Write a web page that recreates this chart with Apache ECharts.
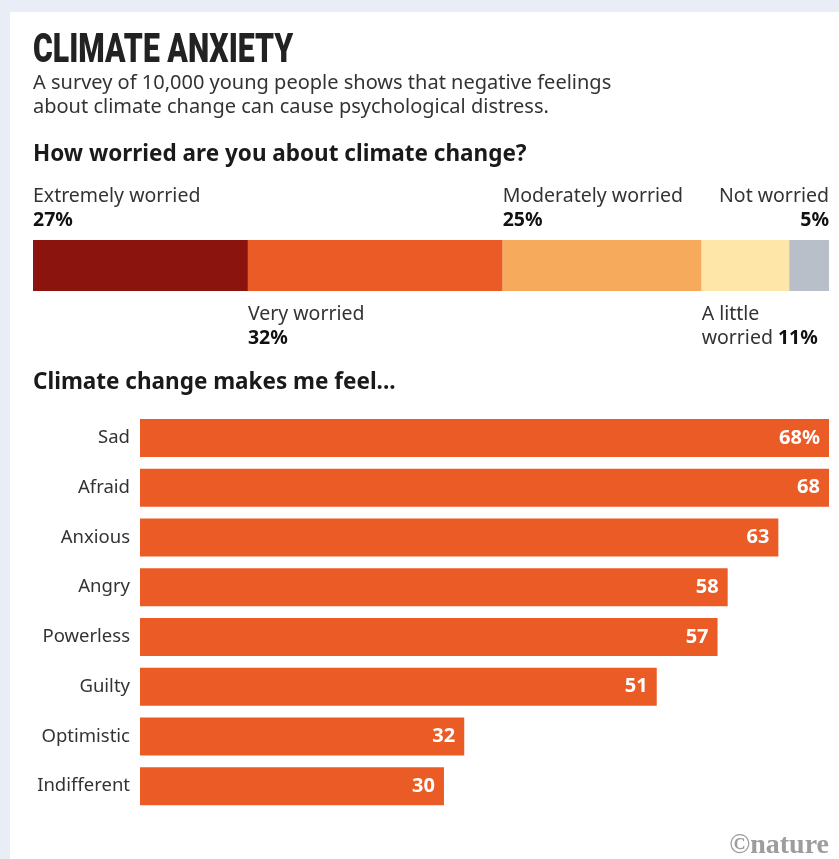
<!DOCTYPE html>
<html><head><meta charset="utf-8">
<script src="https://cdn.jsdelivr.net/npm/echarts@6/dist/echarts.min.js"></script>
<style>html,body{margin:0;padding:0;background:#e9edf5}#c{width:839px;height:859px}</style>
</head><body><div id="c"></div>
<script>
const worryCats = ['Extremely worried','Very worried','Moderately worried','A little worried','Not worried'];
const worryValues = [27,32,25,11,5];
const worryColors = ['#8b140e','#eb5b25','#f6aa5b','#fee6a9','#b9bfc8'];
const feelCats = ['Sad','Afraid','Anxious','Angry','Powerless','Guilty','Optimistic','Indifferent'];
const feelValues = [68,68,63,58,57,51,32,30];

const FONT = '"Noto Sans", sans-serif';
const rich = {
  n:{fontFamily:FONT,fontSize:19.5,color:'#333',lineHeight:24},
  b:{fontFamily:FONT,fontSize:19.5,fontWeight:'bold',color:'#111',lineHeight:24}
};
const labelSpec = [
  {pos:[0,-56], align:'left', fmt:(v)=>'{n|Extremely worried}\n{b|'+v+'%}'},
  {pos:[0,'100%'], offset:[0,11], align:'left', fmt:(v)=>'{n|Very worried}\n{b|'+v+'%}'},
  {pos:[0,-56], align:'left', fmt:(v)=>'{n|Moderately worried}\n{b|'+v+'%}'},
  {pos:[0,'100%'], offset:[0,11], align:'left', fmt:(v)=>'{n|A little}\n{n|worried }{b|'+v+'%}'},
  {pos:['100%',-56], align:'right', fmt:(v)=>'{n|Not worried}\n{b|'+v+'%}'}
];

const worrySeries = worryValues.map((v,i)=>({
  type:'bar', name:worryCats[i], stack:'w', xAxisIndex:0, yAxisIndex:0,
  barWidth:51, data:[v], itemStyle:{color:worryColors[i]},
  label:{show:true, position:labelSpec[i].pos, offset:labelSpec[i].offset||[0,0],
    align:labelSpec[i].align, verticalAlign:'top', formatter:labelSpec[i].fmt(v), rich:rich},
  emphasis:{disabled:true}, silent:true
}));

const chart = echarts.init(document.getElementById('c'));
chart.setOption({
  backgroundColor:'#e9edf5',
  animation:false,
  graphic:[
    {type:'rect', z:-10, shape:{x:10,y:12,width:829,height:847}, style:{fill:'#fff'}, silent:true},
    {type:'text', x:33, y:52, scaleX:0.755, originX:0, originY:0,
      style:{text:'CLIMATE ANXIETY', font:'900 40px Roboto', fill:'#222', textVerticalAlign:'middle'}},
    {type:'text', x:33, y:83, style:{text:'A survey of 10,000 young people shows that negative feelings', font:'20px "Noto Sans"', fill:'#333', textVerticalAlign:'middle'}},
    {type:'text', x:33, y:107, style:{text:'about climate change can cause psychological distress.', font:'20px "Noto Sans"', fill:'#333', textVerticalAlign:'middle'}},
    {type:'text', x:33, y:155, style:{text:'How worried are you about climate change?', font:'bold 22.5px "Noto Sans"', fill:'#1a1a1a', textVerticalAlign:'middle'}},
    {type:'text', x:33, y:383, style:{text:'Climate change makes me feel...', font:'bold 22.5px "Noto Sans"', fill:'#1a1a1a', textVerticalAlign:'middle'}},
    {type:'text', x:829, y:846, style:{text:'\u00a9nature', font:'bold 28px "Liberation Serif"', fill:'#9d9d9d', textAlign:'right', textVerticalAlign:'middle'}}
  ],
  grid:[
    {left:33, right:10, top:240, height:51},
    {left:140, right:10, top:413, height:398}
  ],
  xAxis:[
    {gridIndex:0, type:'value', min:0, max:100, show:false},
    {gridIndex:1, type:'value', min:0, max:68, show:false}
  ],
  yAxis:[
    {gridIndex:0, type:'category', data:['all'], show:false},
    {gridIndex:1, type:'category', data:feelCats, inverse:true,
      axisLine:{show:false}, axisTick:{show:false},
      axisLabel:{fontFamily:FONT, fontSize:18.5, color:'#333', margin:10}}
  ],
  series:[...worrySeries,
    {type:'bar', xAxisIndex:1, yAxisIndex:1, data:feelValues, barWidth:38,
      itemStyle:{color:'#eb5b25'}, silent:true,
      label:{show:true, position:'insideRight', distance:9, color:'#fff',
        fontFamily:FONT, fontSize:20, fontWeight:'bold',
        formatter:(p)=>p.dataIndex===0? p.value+'%' : String(p.value)}}
  ]
});
</script></body></html>
